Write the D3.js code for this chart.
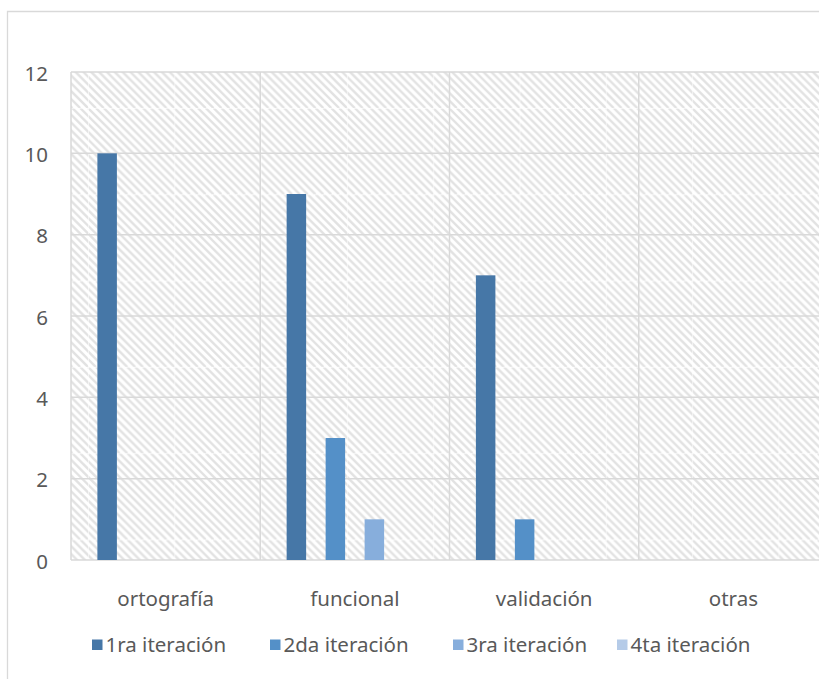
<!DOCTYPE html>
<html>
<head>
<meta charset="utf-8">
<script src="https://cdn.jsdelivr.net/npm/d3@7"></script>
<style>
  html, body { margin: 0; padding: 0; background: #fff; overflow: hidden; }
  svg { display: block; }
  text { font-family: "Noto Sans", sans-serif; fill: #595959; }
</style>
</head>
<body>
<svg id="chart" width="819" height="679"></svg>
<script>
// Error categories and iterations
const categories = ["ortografía", "funcional", "validación", "otras"];
const seriesNames = ["1ra iteración", "2da iteración", "3ra iteración", "4ta iteración"];
const iter1 = [10, 9, 7, 0];
const iter2 = [0, 3, 1, 0];
const iter3 = [0, 1, 0, 0];
const iter4 = [0, 0, 0, 0];
const yTicks = [0, 2, 4, 6, 8, 10, 12];
const colors = ["#4677a7", "#5490c8", "#87aedc", "#b5cbe8"];

const seriesValues = [iter1, iter2, iter3, iter4];
const rows = categories.map((c, i) => ({
  cat: c,
  vals: seriesNames.map((s, j) => ({ s, v: seriesValues[j][i], j }))
}));

const svg = d3.select("#chart");
const plot = { left: 71, top: 72, right: 828, bottom: 560 };
const FONT = "20.5px";

// outer frame of the chart area (top and left edges fall inside the view)
svg.append("path")
  .attr("d", "M7.5,679 L7.5,11.5 L819,11.5")
  .attr("fill", "none").attr("stroke", "#d9d9d9").attr("stroke-width", 1.3);

// hatched plot background
const defs = svg.append("defs");
const tile = 86.3, nStripes = 11, sp = tile / nStripes;
const pat = defs.append("pattern")
  .attr("id", "hatch").attr("patternUnits", "userSpaceOnUse")
  .attr("x", 1.7).attr("y", 21.7)
  .attr("width", tile).attr("height", tile);
pat.append("rect").attr("width", tile).attr("height", tile).attr("fill", "#fff");
for (let k = -nStripes; k <= nStripes; k++) {
  const o = k * sp;
  pat.append("line")
    .attr("x1", o).attr("y1", 0)
    .attr("x2", o + tile).attr("y2", tile)
    .attr("stroke", "#e2e2e2").attr("stroke-width", 2.4);
}
pat.append("line").attr("x1", 0).attr("y1", 0.5).attr("x2", tile).attr("y2", 0.5)
  .attr("stroke", "#fff").attr("stroke-opacity", 0.55).attr("stroke-width", 1);
pat.append("line").attr("x1", 0.5).attr("y1", 0).attr("x2", 0.5).attr("y2", tile)
  .attr("stroke", "#fff").attr("stroke-opacity", 0.55).attr("stroke-width", 1);

svg.append("rect")
  .attr("x", plot.left).attr("y", plot.top)
  .attr("width", plot.right - plot.left).attr("height", plot.bottom - plot.top)
  .attr("fill", "url(#hatch)");

// scales
const x0 = d3.scaleBand().domain(categories).range([plot.left, plot.right]).padding(0);
const x1 = d3.scaleBand().domain(seriesNames).range([0, x0.bandwidth()])
  .paddingInner(0.5).paddingOuter(0.677);
const y = d3.scaleLinear().domain([0, 12]).range([plot.bottom, plot.top]);

// gridlines
const grid = svg.append("g").attr("stroke", "#d9d9d9").attr("stroke-width", 1.5);
grid.selectAll("line.h").data(yTicks).join("line")
  .attr("class", "h")
  .attr("x1", plot.left).attr("x2", plot.right)
  .attr("y1", d => y(d)).attr("y2", d => y(d));
grid.selectAll("line.v").data(categories).join("line")
  .attr("class", "v")
  .attr("x1", d => x0(d)).attr("x2", d => x0(d))
  .attr("y1", plot.top).attr("y2", plot.bottom);

// bars
svg.append("g").selectAll("g").data(rows).join("g")
  .attr("transform", d => `translate(${x0(d.cat)},0)`)
  .selectAll("rect").data(d => d.vals.filter(v => v.v > 0)).join("rect")
  .attr("x", d => x1(d.s))
  .attr("width", x1.bandwidth())
  .attr("y", d => y(d.v))
  .attr("height", d => y(0) - y(d.v))
  .attr("fill", d => colors[d.j]);

// y axis labels
const yAxis = d3.axisLeft(y).tickValues(yTicks).tickSize(0).tickPadding(0);
const yg = svg.append("g").attr("transform", "translate(48,1.5)").call(yAxis);
yg.select(".domain").remove();
yg.selectAll("text").style("font-size", FONT).attr("fill", "#595959")
  .attr("font-family", "'Noto Sans', sans-serif");

// category labels
const xAxis = d3.axisBottom(x0).tickSize(0).tickPadding(0);
const xg = svg.append("g").attr("transform", "translate(0,591)").call(xAxis);
xg.select(".domain").remove();
xg.selectAll("text").style("font-size", FONT).attr("fill", "#595959")
  .attr("font-family", "'Noto Sans', sans-serif");

// legend
const legendX = [92, 270, 453, 617];
const legend = svg.append("g").attr("transform", "translate(0,645)");
seriesNames.forEach((s, j) => {
  const g = legend.append("g").attr("transform", `translate(${legendX[j]},0)`);
  g.append("rect").attr("x", 0).attr("y", -5.5).attr("width", 10.5).attr("height", 10.5)
    .attr("fill", colors[j]);
  g.append("text").attr("x", 13.5).attr("y", 0).attr("dy", "0.35em")
    .style("font-size", FONT).text(s);
});
</script>
</body>
</html>
